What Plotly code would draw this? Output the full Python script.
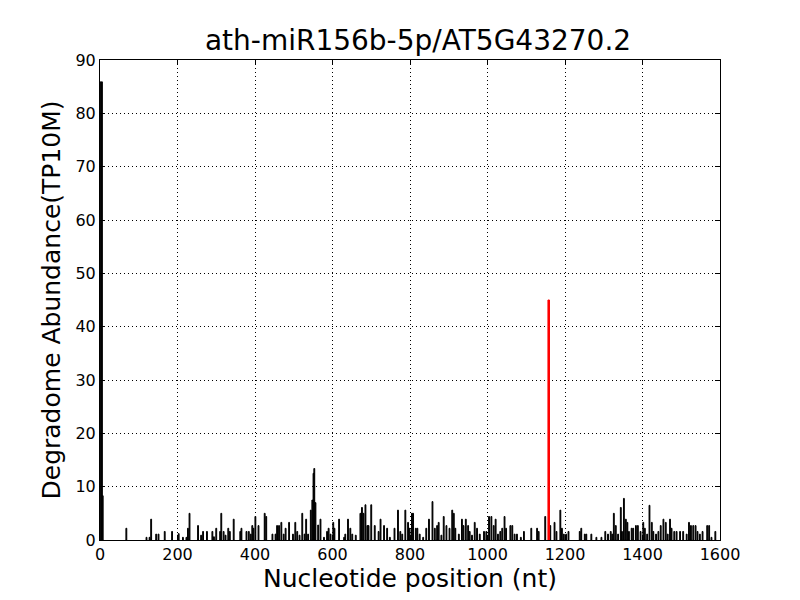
import plotly.graph_objects as go

# Degradome tags (position in nt, abundance TP10M)
positions = [2, 5, 7, 68, 120, 128, 132, 145, 151, 167, 186, 203, 214, 223, 227, 231, 253, 261,
             266, 276, 290, 294, 300, 310, 313, 319, 324, 331, 335, 345, 362, 365, 378, 384, 389,
             393, 396, 401, 409, 425, 429, 445, 453, 457, 462, 468, 474, 479, 488, 498, 504, 509,
             515, 522, 528, 532,
             537, 544, 548, 551, 553, 556, 563, 569, 578, 586, 590, 595, 602, 605, 617, 630, 633,
             640, 646, 651, 660, 672, 676, 680, 685, 690, 693, 700, 709, 719, 724, 733, 741, 748,
             760, 769, 775, 780, 788, 795, 799, 805,
             808, 815, 819, 825, 834, 842, 849, 858, 864, 870, 874, 881, 887, 894, 902, 909, 913,
             917, 926, 934, 938, 944, 950, 954, 960, 967, 973, 980, 991, 997, 1004, 1010, 1016,
             1021, 1027, 1033, 1038, 1044, 1048, 1059, 1064, 1070, 1076,
             1086, 1094, 1113, 1128, 1132, 1149, 1162, 1173, 1178, 1188, 1192, 1197, 1203, 1209,
             1238, 1242, 1251, 1255, 1268, 1281, 1294, 1304, 1311, 1318, 1322, 1326, 1331, 1337,
             1344, 1347, 1352, 1357, 1361, 1365, 1372, 1376, 1383, 1388, 1395, 1402, 1406, 1412,
             1418, 1424, 1428, 1435, 1441, 1447, 1454, 1460, 1465, 1471, 1475, 1482, 1488, 1497,
             1505, 1514, 1520, 1525, 1531, 1537, 1542, 1548, 1555, 1567, 1572, 1578, 1588]
abundance = [85.9, 85.9, 8.3, 2.2, 0.5, 0.5, 3.9, 1.1, 1.1, 1.6, 1.6, 1.2, 0.5, 0.5, 2.2, 5.0, 2.7, 0.9,
             1.6, 1.6, 1.6, 0.6, 2.2, 1.6, 5.0, 1.6, 0.9, 2.2, 1.6, 3.9, 1.6, 2.2, 1.6, 1.6, 1.1,
             2.7, 2.2, 4.4, 2.7, 5.0, 4.4, 1.1, 1.1, 2.7, 2.7, 3.3, 1.1, 2.2, 3.3, 1.1, 3.3, 1.6,
             0.9, 5.0, 1.1, 3.9,
             1.1, 5.6, 7.5, 12.5, 13.4, 7.0, 2.8, 3.9, 0.5, 1.6, 2.2, 1.1, 3.3, 2.2, 3.9, 0.5, 1.1,
             3.9, 2.2, 1.1, 0.9, 5.0, 6.1, 5.0, 6.6, 2.7, 2.7, 6.6, 2.7, 1.6, 3.9, 2.7, 2.2, 0.5,
             2.2, 5.6, 1.6, 1.1, 5.6, 3.3, 2.2, 5.0,
             5.0, 2.2, 2.2, 1.1, 0.5, 2.2, 3.9, 7.2, 2.2, 2.7, 3.3, 0.9, 4.4, 2.7, 2.2, 5.6, 5.0,
             2.2, 1.1, 3.9, 2.7, 3.9, 2.7, 1.6, 0.9, 3.3, 2.2, 1.1, 1.6, 1.6, 4.4, 4.4, 2.7,
             3.9, 1.1, 1.6, 2.2, 4.4, 2.2, 2.7, 2.7, 1.1, 1.1,
             0.5, 1.6, 2.2, 2.2, 1.6, 4.4, 2.7, 3.3, 1.6, 5.6, 2.2, 1.1, 1.1, 1.6,
             1.6, 2.2, 1.1, 1.1, 1.1, 0.5, 0.5, 1.6, 1.1, 1.6, 1.1, 5.0, 2.7, 1.1,
             6.1, 1.6, 7.8, 3.9, 3.3, 1.6, 2.2, 2.2, 2.7, 2.7, 1.6, 3.3, 2.2, 1.1,
             6.5, 3.3, 1.6, 1.1, 1.6, 2.7, 3.9, 3.3, 1.1, 3.9, 2.2, 1.6, 1.6, 1.6,
             1.6, 1.1, 3.3, 2.7, 2.7, 2.7, 1.6, 1.1, 1.6, 2.7, 2.7, 0.5, 1.6]

# miRNA cleavage site
site_position = [1158]
site_abundance = [45.0]

title_text = "ath-miR156b-5p/AT5G43270.2"
x_label = "Nucleotide position (nt)"
y_label = "Degradome Abundance(TP10M)"

font = "DejaVu Sans"

fig = go.Figure()
fig.add_trace(go.Bar(
    x=positions, y=abundance, width=2.2,
    marker=dict(color="black", line=dict(color="black", width=1)),
    showlegend=False, hoverinfo="x+y"))
fig.add_trace(go.Bar(
    x=site_position, y=site_abundance, width=4,
    marker=dict(color="red", line=dict(color="red", width=1)),
    showlegend=False, hoverinfo="x+y"))

axis_common = dict(
    showline=True, linecolor="black", linewidth=1, mirror="ticks",
    ticks="inside", ticklen=5, tickcolor="black",
    showgrid=True, gridcolor="black", griddash="1px,3px", gridwidth=1,
    zeroline=False, automargin=False,
    tickfont=dict(family=font, size=16, color="black"),
)

# page body has an 8px margin, so the figure is drawn 8px smaller with offsets compensated
fig.update_layout(
    width=792, height=592,
    margin=dict(l=92, r=80, t=52, b=60),
    paper_bgcolor="white", plot_bgcolor="white",
    barmode="overlay",
    title=dict(text=title_text, x=0.5177, xanchor="center", y=0.945, yanchor="middle",
               font=dict(family=font, size=28, color="black")),
    xaxis=dict(range=[0, 1600], dtick=200, tick0=0,
               title=dict(text=x_label, font=dict(family=font, size=25, color="black"), standoff=6),
               **axis_common),
    yaxis=dict(range=[0, 90], dtick=10, tick0=0,
               title=dict(text=y_label, font=dict(family=font, size=25, color="black"), standoff=7),
               **axis_common),
)

fig.write_html("out.html")
